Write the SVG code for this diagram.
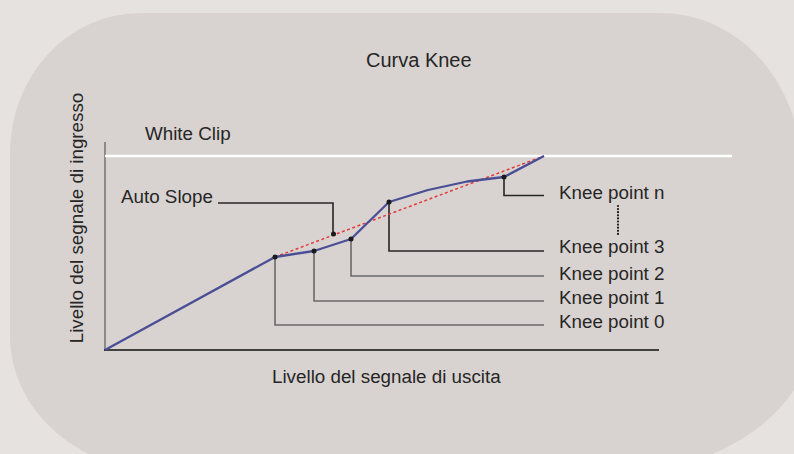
<svg xmlns="http://www.w3.org/2000/svg" width="794" height="454" viewBox="0 0 794 454">
<style>
text{font-family:"Liberation Sans",Arial,sans-serif;font-size:18.8px;fill:#262626}
.lead{fill:none;stroke-width:1.6}
.dark{stroke:#262626}
.grey{stroke:#6a6a6a}
.dot{fill:#1a1a1a}
</style>
<rect x="0" y="0" width="794" height="454" fill="#e6e2df"/>
<path id="panel" d="M140,13 H661 A140 155 0 0 1 801 168 L815 325 A200 150 0 0 1 615 473 H170 A160 136 0 0 1 10 337 V153 A130 140 0 0 1 140 13 Z" fill="#d8d3d0"/>
<g id="title"><text x="366" y="67" style="font-size:20px">Curva Knee</text></g>
<g id="axes">
<line x1="105" y1="142" x2="105" y2="351" stroke="#7a7a7a" stroke-width="1.6"/>
<line x1="104" y1="350" x2="659" y2="350" stroke="#111" stroke-width="1.6"/>
<text x="272" y="383">Livello del segnale di uscita</text>
<text transform="translate(82.5,218) rotate(-90)" text-anchor="middle">Livello del segnale di ingresso</text>
</g>
<g id="white-clip">
<line x1="105" y1="156" x2="732" y2="156" stroke="#ffffff" stroke-width="2.5"/>
<text x="145" y="140">White Clip</text>
</g>
<g id="connectors">
<path class="lead dark" d="M218,203 H333 V234"/>
<path class="lead grey" d="M275,257 V325 H544"/>
<path class="lead grey" d="M314,251 V301 H544"/>
<path class="lead grey" d="M351,239 V276 H544"/>
<path class="lead dark" d="M389,202 V251 H544"/>
<path class="lead dark" d="M504,177 V195.5 H544"/>
<line x1="618" y1="206" x2="618" y2="234" stroke="#1a1a1a" stroke-width="2.2" stroke-linecap="round" stroke-dasharray="0 3.1"/>
</g>
<g id="auto-slope">
<line x1="275" y1="257" x2="544" y2="156" stroke="#e53a3a" stroke-width="1.5" stroke-dasharray="3 2.5"/>
<circle class="dot" cx="333.5" cy="234" r="2.5"/>
<text x="121" y="203">Auto Slope</text>
</g>
<g id="curve">
<polyline points="105,350 275,257 314,251 351,239 389,202 428,190 467,181.5 504,177 544,156" fill="none" stroke="#4a4f95" stroke-width="2.3" stroke-linejoin="round"/>
</g>
<g id="kp0"><circle class="dot" cx="275" cy="257" r="2.5"/><text x="559" y="328">Knee point 0</text></g>
<g id="kp1"><circle class="dot" cx="314" cy="251" r="2.5"/><text x="559" y="303.5">Knee point 1</text></g>
<g id="kp2"><circle class="dot" cx="351" cy="239" r="2.5"/><text x="559" y="279.5">Knee point 2</text></g>
<g id="kp3"><circle class="dot" cx="389" cy="202" r="2.5"/><text x="559" y="252.5">Knee point 3</text></g>
<g id="kpn"><circle class="dot" cx="504" cy="177" r="2.5"/><text x="559" y="198.5">Knee point n</text></g>
</svg>
